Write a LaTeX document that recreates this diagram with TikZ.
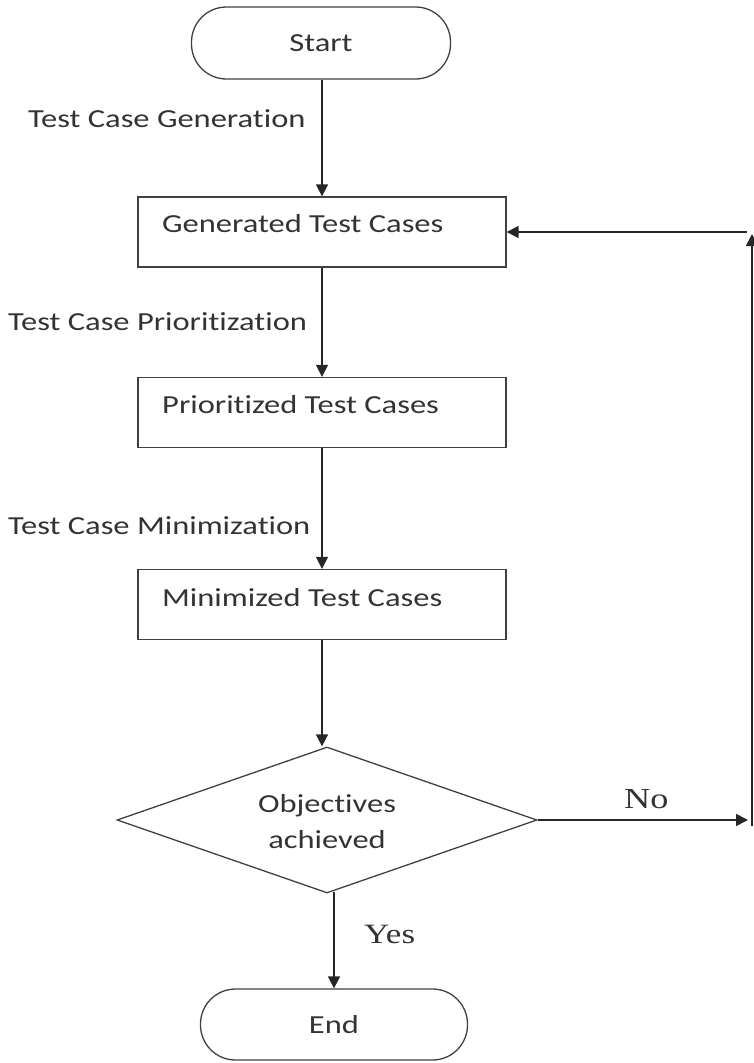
\documentclass[tikz,border=0pt]{standalone}
\usepackage{fontspec}
\setmainfont{Carlito}[Ligatures={NoCommon,NoRare,NoContextual}]
\newfontfamily\serifx{Liberation Serif}
\usetikzlibrary{shapes.geometric,arrows.meta}
\newcommand{\wide}[1]{\scalebox{1.25}[1]{#1}}
\begin{document}
\begin{tikzpicture}[x=1pt,y=-1pt,
  every node/.style={text=black!80, font=\fontsize{26}{36}\selectfont},
  stadium/.style={draw=black!75, line width=1.3pt, rounded corners=35pt, minimum width=259pt, minimum height=72pt, inner sep=0pt},
  procbox/.style={draw=black!75, line width=1.3pt, minimum width=368pt, minimum height=70pt, inner sep=0pt},
  decision/.style={draw=black!75, diamond, line width=1.3pt, minimum width=420pt, minimum height=146pt, inner sep=0pt},
  lbl/.style={anchor=base west, inner sep=0pt},
  conn/.style={draw=black!85, line width=1.6pt, -{Triangle[length=12pt,width=12pt]}},
  plain/.style={draw=black!85, line width=1.6pt}
]
\useasboundingbox (0,0) rectangle (753,1063);

\node[stadium] (start) at (321,43) {\wide{Start}};
\node[procbox] (gen) at (322,232) {};
\node[procbox] (pri) at (322,412.5) {};
\node[procbox] (mini) at (322,604.5) {};
\node[decision] (dec) at (327,820) {};
\node[stadium, minimum width=267pt, minimum height=71pt] (endn) at (334,1024.5) {\wide{End}};

\node[lbl] (tgen) at (162,232) {\wide{Generated Test Cases}};
\node[lbl] (tpri) at (162,413) {\wide{Prioritized Test Cases}};
\node[lbl] (tmin) at (162,606) {\wide{Minimized Test Cases}};
\node[align=center, inner sep=0pt] (tdec) at (327,822) {\wide{Objectives}\\\wide{achieved}};

\node[lbl] (lgen) at (28,127) {\wide{Test Case Generation}};
\node[lbl] (lpri) at (8,330) {\wide{Test Case Prioritization}};
\node[lbl] (lmin) at (8,534) {\wide{Test Case Minimization}};
\node[lbl, font=\serifx\fontsize{29}{32}\selectfont] (lno) at (624,808) {\wide{No}};
\node[lbl, font=\serifx\fontsize{28}{32}\selectfont] (lyes) at (364,943) {\wide{Yes}};

\coordinate (noend) at (748,820);
\coordinate (loopbot) at (752,826);
\coordinate (looptop) at (752,234);
\coordinate (loopstart) at (747,232);

\draw[conn] (start.south -| gen.north) -- (gen.north);
\draw[conn] (gen.south) -- (pri.north);
\draw[conn] (pri.south) -- (mini.north);
\draw[conn] (mini.south) -- (mini.south |- dec.north);
\draw[conn] (dec.south -| endn.north) ++(0,-2) -- (endn.north);
\draw[conn] (dec.east) -- (noend);
\draw[conn] (loopbot) -- (looptop);
\draw[conn] (loopstart) -- (gen.east);
\end{tikzpicture}
\end{document}
